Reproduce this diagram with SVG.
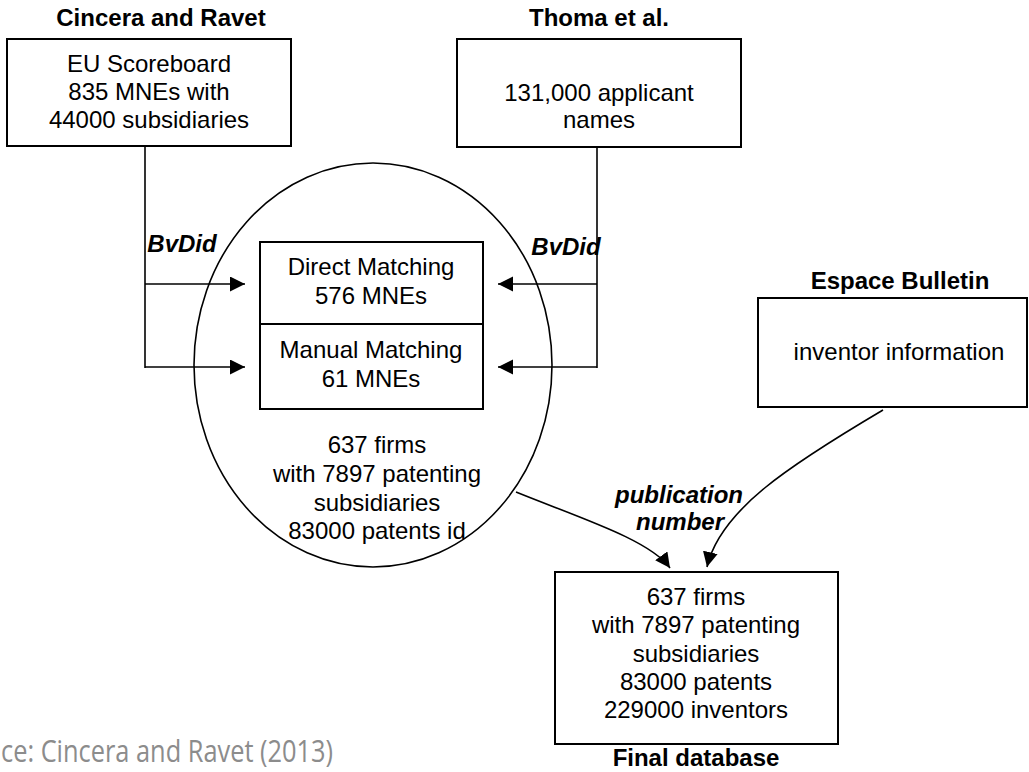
<svg xmlns="http://www.w3.org/2000/svg" width="1029" height="772" viewBox="0 0 1029 772">
<style>
text{font-family:"Liberation Sans",Arial,sans-serif;font-size:24px;fill:#000;text-anchor:middle}
.t{font-weight:bold}
.lab{font-weight:bold;font-style:italic}
.box{fill:#fff;stroke:#000;stroke-width:2}
.ln{fill:none;stroke:#000;stroke-width:1.6}
.src{font-family:"Open Sans","Liberation Sans",sans-serif;font-size:31px;fill:#8c8c8c;text-anchor:start}
</style>
<defs>
<marker id="ah" markerUnits="userSpaceOnUse" markerWidth="16" markerHeight="16" refX="15" refY="7.5" orient="auto" viewBox="0 0 16 16">
<path d="M0,0 L15,7.5 L0,15 z" fill="#000"/>
</marker>
</defs>
<g id="connectors">
<path class="ln" d="M145,147 V368"/>
<path class="ln" d="M145,284 H245" marker-end="url(#ah)"/>
<path class="ln" d="M145,367 H245" marker-end="url(#ah)"/>
<path class="ln" d="M597,147 V368"/>
<path class="ln" d="M597,284 H498" marker-end="url(#ah)"/>
<path class="ln" d="M597,367 H498" marker-end="url(#ah)"/>
<path class="ln" d="M516,492 C580,518 650,540 670,568" marker-end="url(#ah)"/>
<path class="ln" d="M883,410 C790,465 720,510 707,567" marker-end="url(#ah)"/>
<text class="lab" x="182" y="252">BvDid</text>
<text class="lab" x="566" y="255">BvDid</text>
<text class="lab" x="679" y="503">publication</text>
<text class="lab" x="680" y="530">number</text>
</g>
<g id="eu">
<text class="t" x="161" y="26">Cincera and Ravet</text>
<rect class="box" x="7" y="39" width="284" height="107"/>
<text x="149" y="72">EU Scoreboard</text>
<text x="149" y="100">835 MNEs with</text>
<text x="149" y="128">44000 subsidiaries</text>
</g>
<g id="thoma">
<text class="t" x="599" y="26">Thoma et al.</text>
<rect class="box" x="457" y="39" width="284" height="108"/>
<text x="599" y="101">131,000 applicant</text>
<text x="599" y="128">names</text>
</g>
<g id="matching">
<ellipse cx="373" cy="365" rx="179" ry="202" fill="none" stroke="#000" stroke-width="1.6"/>
<rect class="box" x="260" y="242" width="223" height="167"/>
<line x1="260" y1="324" x2="483" y2="324" stroke="#000" stroke-width="2"/>
<text x="371" y="275">Direct Matching</text>
<text x="371" y="304">576 MNEs</text>
<text x="371" y="358">Manual Matching</text>
<text x="371" y="387">61 MNEs</text>
<text x="377" y="453">637 firms</text>
<text x="377" y="482">with 7897 patenting</text>
<text x="377" y="511">subsidiaries</text>
<text x="377" y="539">83000 patents id</text>
</g>
<g id="espace">
<text class="t" x="900" y="289">Espace Bulletin</text>
<rect class="box" x="758" y="298" width="269" height="109"/>
<text x="899" y="360">inventor information</text>
</g>
<g id="final">
<rect class="box" x="555" y="572" width="283" height="172"/>
<text x="696" y="605">637 firms</text>
<text x="696" y="633">with 7897 patenting</text>
<text x="696" y="662">subsidiaries</text>
<text x="696" y="690">83000 patents</text>
<text x="696" y="718">229000 inventors</text>
<text class="t" x="696" y="766">Final database</text>
</g>
<text class="src" x="1" y="762" textLength="332" lengthAdjust="spacingAndGlyphs">ce: Cincera and Ravet (2013)</text>
</svg>
